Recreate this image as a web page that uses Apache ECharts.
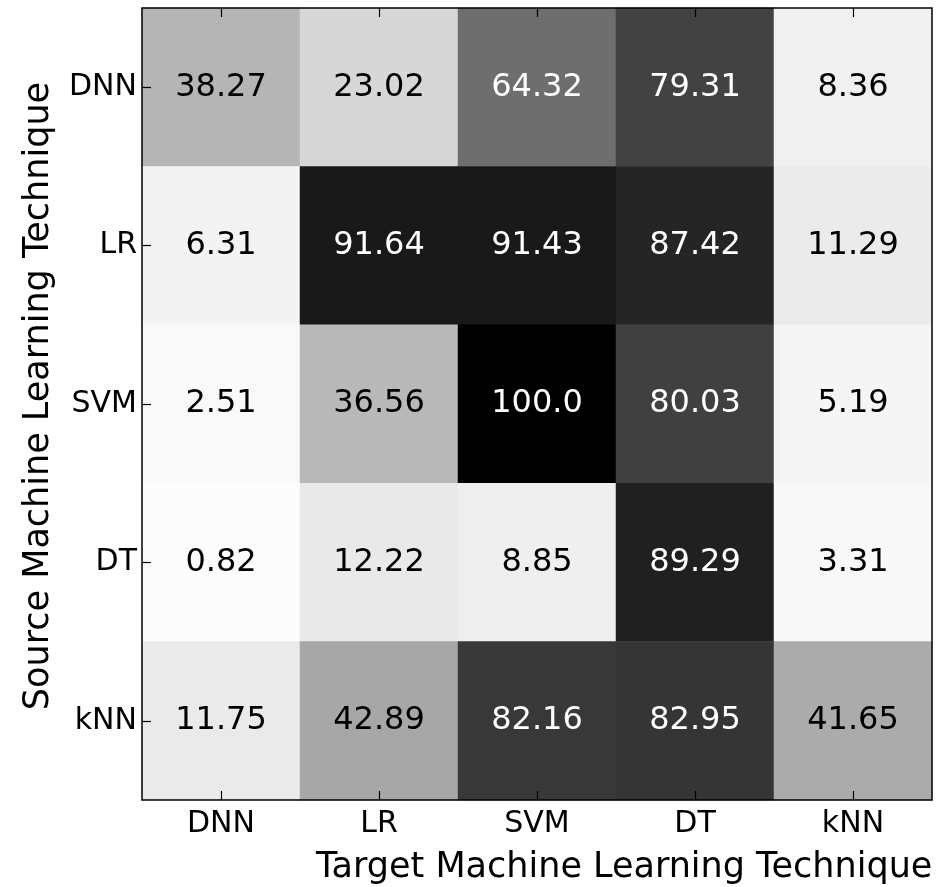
<!DOCTYPE html>
<html>
<head>
<meta charset="utf-8">
<script src="https://cdn.jsdelivr.net/npm/echarts@6/dist/echarts.min.js"></script>
<style>
  html, body { margin: 0; padding: 0; background: #fff; }
  #chart { width: 950px; height: 887px; }
</style>
</head>
<body>
<div id="chart"></div>
<script>
// Transfer success rates between source and target learners
const targetTechniques = ['DNN', 'LR', 'SVM', 'DT', 'kNN'];
const sourceTechniques = ['DNN', 'LR', 'SVM', 'DT', 'kNN'];

// one row per source technique, one column per target technique
const rowDNN = [38.27, 23.02, 64.32, 79.31, 8.36];
const rowLR  = [6.31, 91.64, 91.43, 87.42, 11.29];
const rowSVM = [2.51, 36.56, 100.0, 80.03, 5.19];
const rowDT  = [0.82, 12.22, 8.85, 89.29, 3.31];
const rowKNN = [11.75, 42.89, 82.16, 82.95, 41.65];

const rows = [rowDNN, rowLR, rowSVM, rowDT, rowKNN];

// white-to-black grey ramp, evenly spaced stops over 0..100
const greys = ['#fdfdfd', '#e9e9e9', '#d4d4d4', '#b7b7b7', '#929292',
               '#737373', '#525252', '#252525', '#000000'];

const FONT = 'DejaVu Sans';

const cells = [];
rows.forEach((row, r) => {
  row.forEach((v, c) => {
    cells.push({
      value: [c, r, v],
      label: { color: v > 50 ? '#ffffff' : '#000000' }
    });
  });
});

const chart = echarts.init(document.getElementById('chart'), null, { renderer: 'canvas' });

const tickStyle = { show: true, inside: true, alignWithLabel: true, length: 9, lineStyle: { color: '#000', width: 1.2 } };

chart.setOption({
  animation: false,
  backgroundColor: '#ffffff',
  grid: { show: true, borderColor: '#000', borderWidth: 1.5, backgroundColor: 'transparent',
          left: 142, top: 8, width: 790, height: 792, z: 10 },
  xAxis: [
    {
      type: 'category',
      data: targetTechniques,
      position: 'bottom',
      z: 10,
      axisLine: { show: false },
      axisTick: tickStyle,
      axisLabel: { fontFamily: FONT, fontSize: 30, color: '#000', margin: 9 },
      splitLine: { show: false }
    },
    {
      type: 'category',
      data: targetTechniques,
      position: 'top',
      z: 10,
      axisLine: { show: false },
      axisTick: tickStyle,
      axisLabel: { show: false },
      splitLine: { show: false }
    }
  ],
  yAxis: {
    type: 'category',
    data: sourceTechniques,
    inverse: true,
    z: 10,
    axisLine: { show: false },
    axisTick: tickStyle,
    axisLabel: { fontFamily: FONT, fontSize: 30, color: '#000', margin: 5 },
    splitLine: { show: false }
  },
  visualMap: {
    show: false,
    min: 0,
    max: 100,
    dimension: 2,
    inRange: { color: greys }
  },
  series: [{
    type: 'heatmap',
    z: 2,
    data: cells,
    label: {
      show: true,
      fontFamily: FONT,
      fontSize: 32,
      formatter: p => p.value[2].toFixed(2).replace(/^100\.00$/, '100.0')
    },
    itemStyle: { borderWidth: 0 },
    emphasis: { disabled: true }
  }],
  graphic: [
    {
      type: 'text',
      left: 316,
      top: 850,
      style: { text: 'Target Machine Learning Technique', font: '35px "DejaVu Sans"', fill: '#000' }
    },
    {
      type: 'text',
      x: 21,
      y: 396,
      rotation: Math.PI / 2,
      style: { text: 'Source Machine Learning Technique', font: '35px "DejaVu Sans"', fill: '#000', textAlign: 'center', textVerticalAlign: 'top' }
    }
  ]
});
</script>
</body>
</html>
